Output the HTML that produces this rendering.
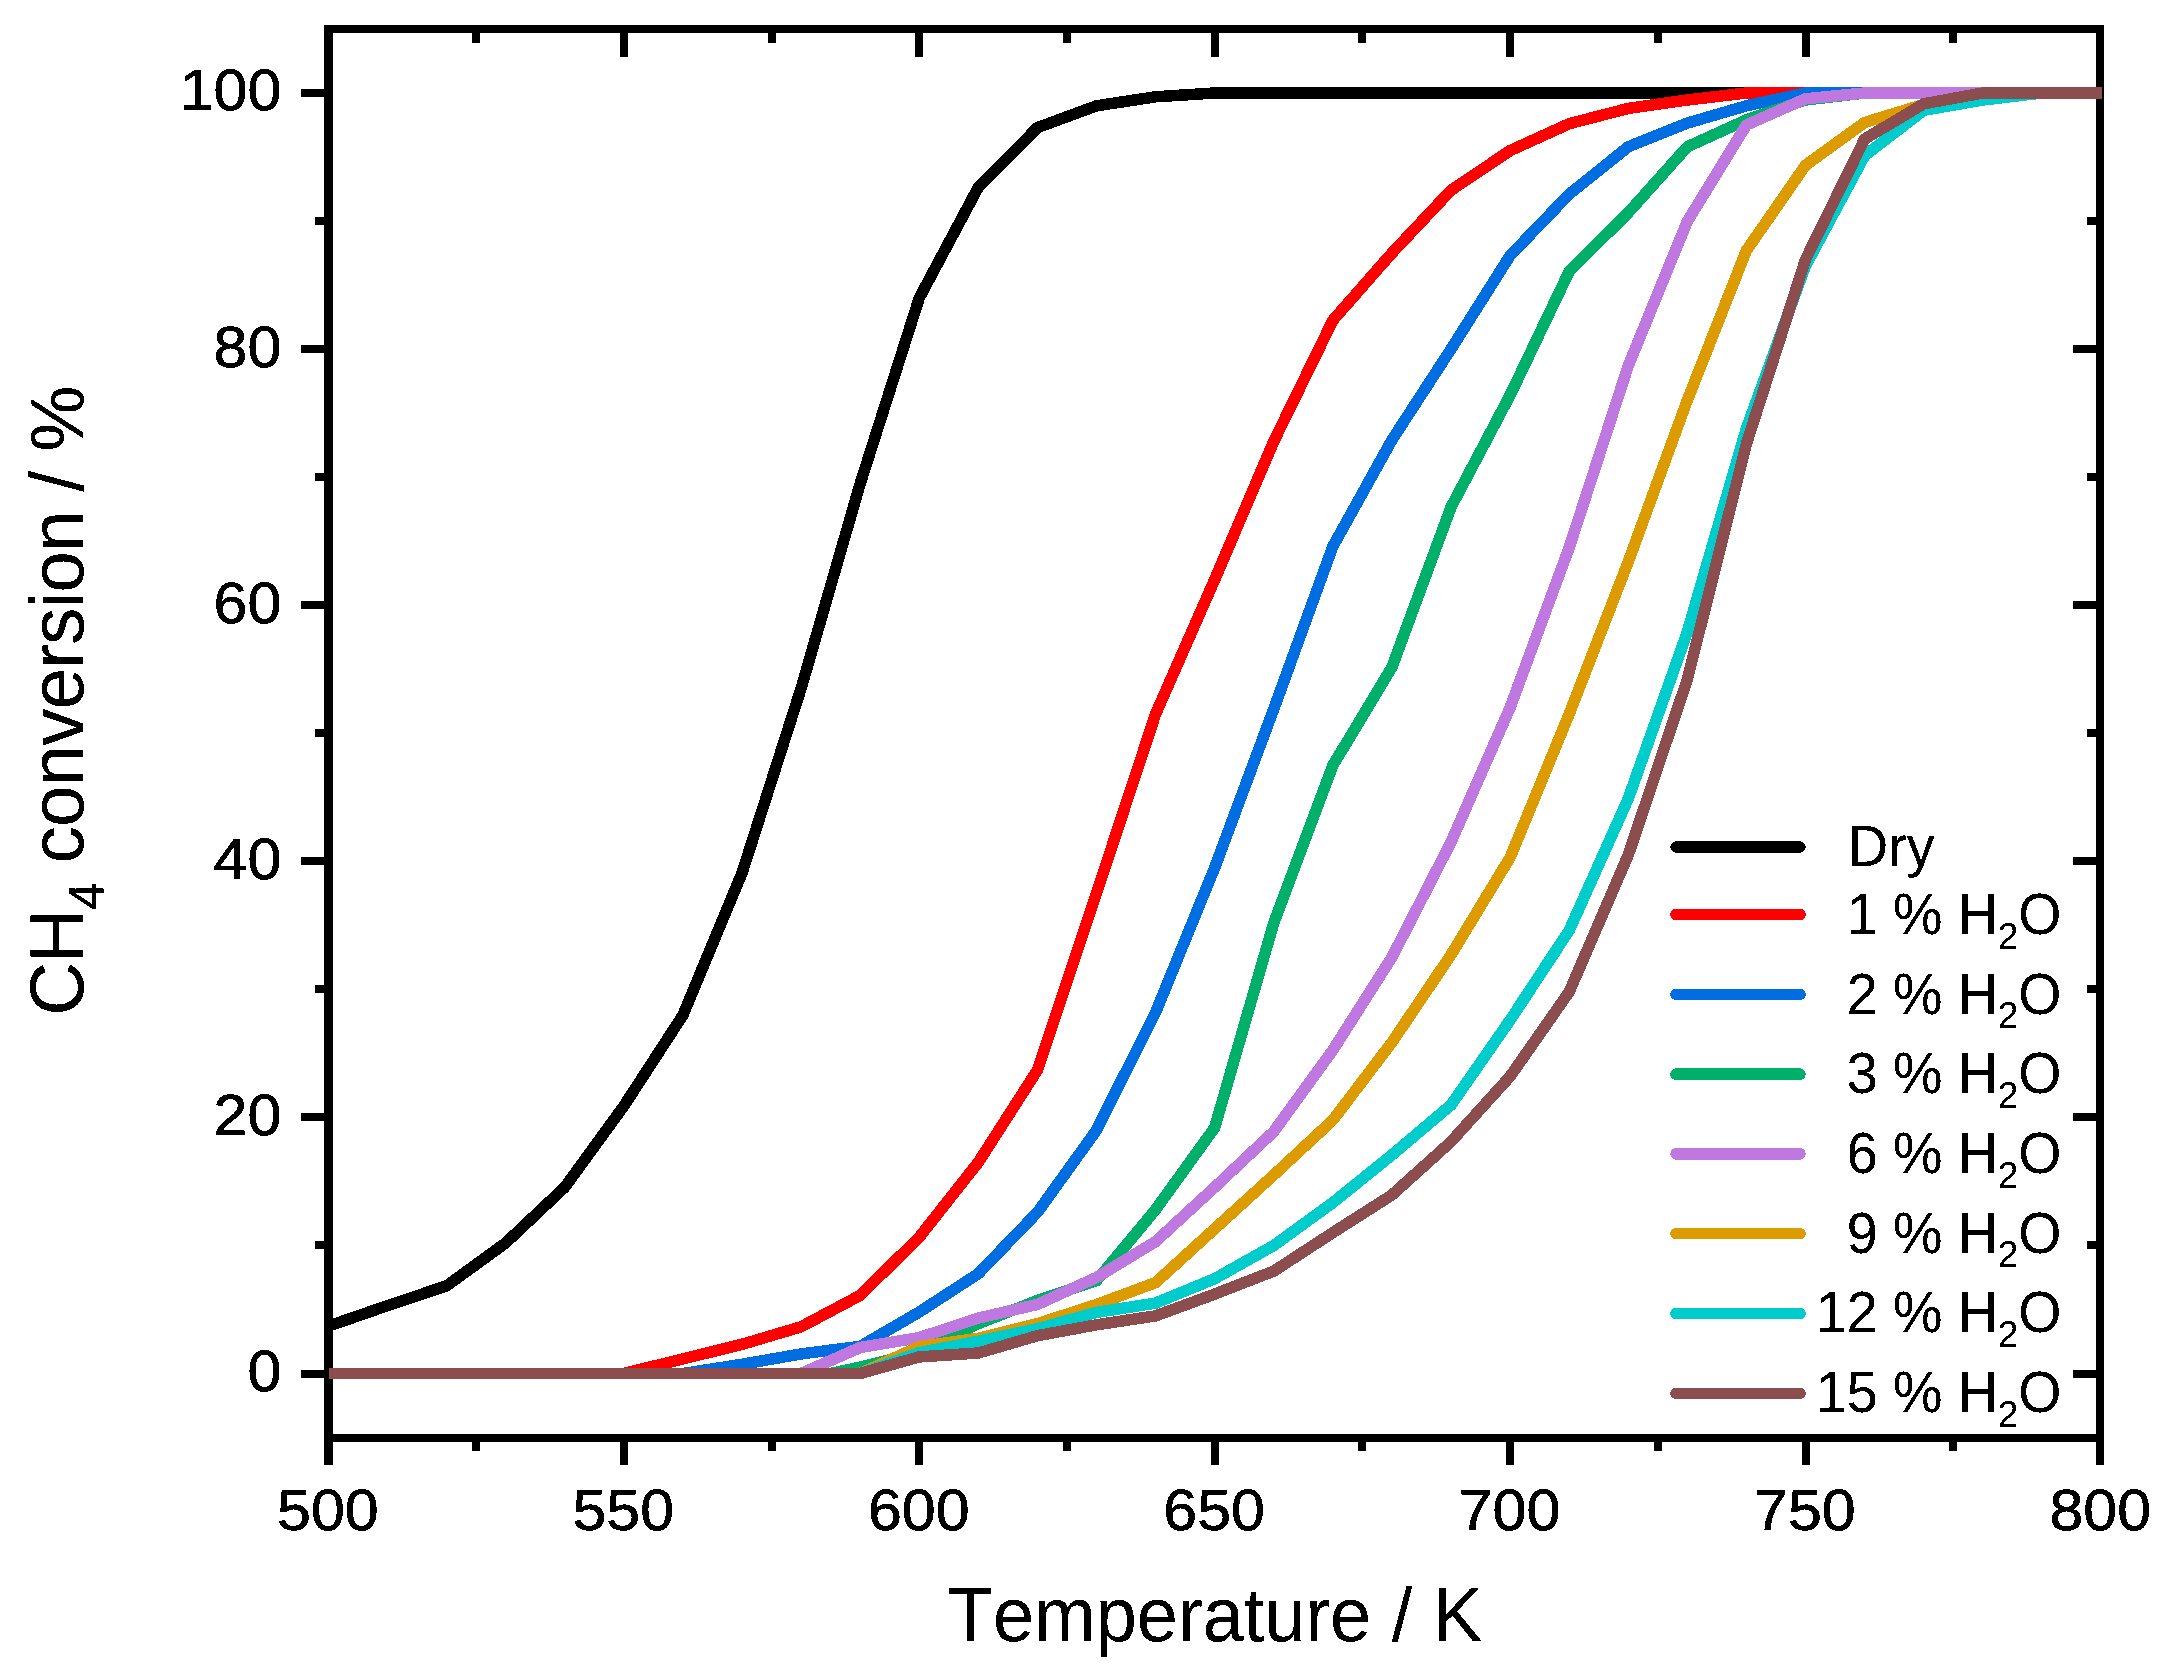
<!DOCTYPE html>
<html lang="en"><head><meta charset="utf-8"><title>CH4 conversion vs temperature</title>
<style>html,body{margin:0;padding:0;background:#fff}svg{display:block}text{font-family:"Liberation Sans",Arial,Helvetica,sans-serif;fill:#000;font-kerning:none}</style></head><body>
<svg width="2164" height="1679" viewBox="0 0 2164 1679">
<rect width="2164" height="1679" fill="#fff"/>
<defs><filter id="aa" x="-5%" y="-5%" width="110%" height="110%" color-interpolation-filters="sRGB"><feComponentTransfer><feFuncA type="discrete" tableValues="0 0 1 1 1"/></feComponentTransfer></filter><clipPath id="plot"><rect x="328" y="29" width="1774" height="1408.5"/></clipPath></defs>
<g fill="#000" shape-rendering="crispEdges">
<rect x="324" y="1437" width="9" height="27.5"/>
<rect x="324" y="29" width="9" height="27.5"/>
<rect x="472" y="1437" width="8" height="14"/>
<rect x="472" y="29" width="8" height="14"/>
<rect x="620" y="1437" width="8" height="27.5"/>
<rect x="620" y="29" width="8" height="27.5"/>
<rect x="768" y="1437" width="8" height="14"/>
<rect x="768" y="29" width="8" height="14"/>
<rect x="915" y="1437" width="8" height="27.5"/>
<rect x="915" y="29" width="8" height="27.5"/>
<rect x="1063" y="1437" width="8" height="14"/>
<rect x="1063" y="29" width="8" height="14"/>
<rect x="1211" y="1437" width="8" height="27.5"/>
<rect x="1211" y="29" width="8" height="27.5"/>
<rect x="1358" y="1437" width="8" height="14"/>
<rect x="1358" y="29" width="8" height="14"/>
<rect x="1506" y="1437" width="8" height="27.5"/>
<rect x="1506" y="29" width="8" height="27.5"/>
<rect x="1654" y="1437" width="8" height="14"/>
<rect x="1654" y="29" width="8" height="14"/>
<rect x="1802" y="1437" width="8" height="27.5"/>
<rect x="1802" y="29" width="8" height="27.5"/>
<rect x="1949" y="1437" width="8" height="14"/>
<rect x="1949" y="29" width="8" height="14"/>
<rect x="2096" y="1437" width="8" height="27.5"/>
<rect x="2096" y="29" width="8" height="27.5"/>
<rect x="301.0" y="1370.0" width="27.5" height="8"/>
<rect x="2072.5" y="1370.0" width="27.5" height="8"/>
<rect x="315.0" y="1241.0" width="13.5" height="8"/>
<rect x="2086.5" y="1241.0" width="13.5" height="8"/>
<rect x="301.0" y="1113.0" width="27.5" height="8"/>
<rect x="2072.5" y="1113.0" width="27.5" height="8"/>
<rect x="315.0" y="985.0" width="13.5" height="8"/>
<rect x="2086.5" y="985.0" width="13.5" height="8"/>
<rect x="301.0" y="857.0" width="27.5" height="8"/>
<rect x="2072.5" y="857.0" width="27.5" height="8"/>
<rect x="315.0" y="729.0" width="13.5" height="8"/>
<rect x="2086.5" y="729.0" width="13.5" height="8"/>
<rect x="301.0" y="601.0" width="27.5" height="8"/>
<rect x="2072.5" y="601.0" width="27.5" height="8"/>
<rect x="315.0" y="473.0" width="13.5" height="8"/>
<rect x="2086.5" y="473.0" width="13.5" height="8"/>
<rect x="301.0" y="345.0" width="27.5" height="8"/>
<rect x="2072.5" y="345.0" width="27.5" height="8"/>
<rect x="315.0" y="217.0" width="13.5" height="8"/>
<rect x="2086.5" y="217.0" width="13.5" height="8"/>
<rect x="301.0" y="89.0" width="27.5" height="8"/>
<rect x="2072.5" y="89.0" width="27.5" height="8"/>
<rect x="324" y="25" width="9" height="1416.5"/>
<rect x="2096" y="25" width="8" height="1416.5"/>
<rect x="324" y="25" width="1780" height="8"/>
<rect x="324" y="1433.5" width="1780" height="8"/>
</g>
<g clip-path="url(#plot)" fill="none" stroke-width="11.5" stroke-linejoin="round" stroke-linecap="butt" shape-rendering="crispEdges">
<polyline stroke="#000000" points="328.5,1326.1 387.6,1305.6 446.7,1285.8 505.7,1242.9 564.8,1187.2 623.9,1105.9 683.0,1015.0 742.1,872.8 801.1,688.4 860.2,483.6 919.3,297.9 978.4,187.1 1037.5,127.6 1096.5,105.8 1155.6,96.8 1214.7,93.0 1273.8,93.0 1332.9,93.0 1391.9,93.0 1451.0,93.0 1510.1,93.0 1569.2,93.0 1628.3,93.0 1687.3,93.0 1746.4,93.0 1805.5,93.0 1864.6,93.0 1923.7,93.0 1982.7,93.0 2041.8,93.0 2100.9,93.0 2103,93.0"/>
<polyline stroke="#ff0000" points="328.5,1373.5 387.6,1373.5 446.7,1373.5 505.7,1373.5 564.8,1373.5 623.9,1373.5 683.0,1358.9 742.1,1344.3 801.1,1326.8 860.2,1295.4 919.3,1237.1 978.4,1162.2 1037.5,1070.0 1096.5,893.3 1155.6,714.0 1214.7,579.6 1273.8,441.3 1332.9,320.3 1391.9,253.1 1451.0,190.3 1510.1,150.6 1569.2,123.7 1628.3,108.4 1687.3,100.0 1746.4,93.0 1805.5,93.0 1864.6,93.0 1923.7,93.0 1982.7,93.0 2041.8,93.0 2100.9,93.0 2103,93.0"/>
<polyline stroke="#006ee1" points="328.5,1373.5 387.6,1373.5 446.7,1373.5 505.7,1373.5 564.8,1373.5 623.9,1373.5 683.0,1373.5 742.1,1364.3 801.1,1353.9 860.2,1346.4 919.3,1312.0 978.4,1273.6 1037.5,1212.2 1096.5,1130.2 1155.6,1012.4 1214.7,867.7 1273.8,708.9 1332.9,546.3 1391.9,440.0 1451.0,349.1 1510.1,255.6 1569.2,194.2 1628.3,146.8 1687.3,123.1 1746.4,105.8 1805.5,93.0 1864.6,93.0 1923.7,93.0 1982.7,93.0 2041.8,93.0 2100.9,93.0 2103,93.0"/>
<polyline stroke="#00af69" points="328.5,1373.5 387.6,1373.5 446.7,1373.5 505.7,1373.5 564.8,1373.5 623.9,1373.5 683.0,1373.5 742.1,1373.5 801.1,1373.5 830.7,1373.5 860.2,1367.1 919.3,1352.4 978.4,1323.6 1037.5,1300.5 1096.5,1280.7 1155.6,1209.6 1214.7,1127.6 1273.8,922.8 1332.9,765.3 1391.9,667.3 1451.0,507.2 1510.1,395.2 1569.2,271.5 1628.3,212.7 1687.3,146.8 1746.4,119.9 1805.5,100.0 1864.6,93.0 1923.7,93.0 1982.7,93.0 2041.8,93.0 2100.9,93.0 2103,93.0"/>
<polyline stroke="#c078e1" points="328.5,1373.5 387.6,1373.5 446.7,1373.5 505.7,1373.5 564.8,1373.5 623.9,1373.5 683.0,1373.5 742.1,1373.5 801.1,1373.5 860.2,1347.5 919.3,1337.6 978.4,1318.1 1037.5,1304.4 1096.5,1277.5 1155.6,1241.6 1214.7,1187.2 1273.8,1131.5 1332.9,1050.0 1391.9,957.3 1451.0,842.1 1510.1,707.6 1569.2,547.6 1628.3,365.7 1687.3,221.4 1746.4,125.0 1805.5,98.8 1864.6,93.0 1923.7,93.0 1982.7,93.0 2041.8,93.0 2100.9,93.0 2103,93.0"/>
<polyline stroke="#dc9b00" points="328.5,1373.5 387.6,1373.5 446.7,1373.5 505.7,1373.5 564.8,1373.5 623.9,1373.5 683.0,1373.5 742.1,1373.5 801.1,1373.5 860.2,1373.5 919.3,1346.6 978.4,1338.3 1037.5,1323.6 1096.5,1304.6 1155.6,1282.6 1214.7,1228.8 1273.8,1175.0 1332.9,1120.0 1391.9,1042.4 1451.0,954.8 1510.1,857.5 1569.2,714.0 1628.3,561.7 1687.3,400.3 1746.4,250.5 1805.5,165.3 1864.6,122.5 1923.7,104.5 1982.7,93.0 2041.8,93.0 2100.9,93.0 2103,93.0"/>
<polyline stroke="#00cccc" points="328.5,1373.5 387.6,1373.5 446.7,1373.5 505.7,1373.5 564.8,1373.5 623.9,1373.5 683.0,1373.5 742.1,1373.5 801.1,1373.5 860.2,1373.5 919.3,1352.6 978.4,1341.2 1037.5,1328.7 1096.5,1312.4 1155.6,1303.1 1214.7,1278.7 1273.8,1245.5 1332.9,1202.6 1391.9,1155.0 1451.0,1105.0 1510.1,1020.1 1569.2,930.4 1628.3,798.6 1687.3,632.1 1746.4,428.5 1805.5,265.9 1864.6,155.7 1923.7,110.3 1982.7,100.0 2041.8,93.0 2100.9,93.0 2103,93.0"/>
<polyline stroke="#8c4d4e" points="328.5,1373.5 387.6,1373.5 446.7,1373.5 505.7,1373.5 564.8,1373.5 623.9,1373.5 683.0,1373.5 742.1,1373.5 801.1,1373.5 860.2,1373.5 919.3,1356.9 978.4,1353.0 1037.5,1335.7 1096.5,1324.8 1155.6,1315.9 1214.7,1294.1 1273.8,1271.1 1332.9,1232.6 1391.9,1195.0 1451.0,1141.7 1510.1,1076.4 1569.2,991.9 1628.3,854.9 1687.3,679.5 1746.4,443.9 1805.5,259.5 1864.6,139.1 1923.7,103.8 1982.7,93.0 2041.8,93.0 2100.9,93.0 2103,93.0"/>
</g>
<g stroke-width="11.5" stroke-linecap="round" fill="none" shape-rendering="crispEdges">
<line x1="1676" y1="847" x2="1800" y2="847" stroke="#000000"/>
<line x1="1676" y1="914.5" x2="1800" y2="914.5" stroke="#ff0000"/>
<line x1="1676" y1="994.3" x2="1800" y2="994.3" stroke="#006ee1"/>
<line x1="1676" y1="1074.1" x2="1800" y2="1074.1" stroke="#00af69"/>
<line x1="1676" y1="1153.9" x2="1800" y2="1153.9" stroke="#c078e1"/>
<line x1="1676" y1="1233.7" x2="1800" y2="1233.7" stroke="#dc9b00"/>
<line x1="1676" y1="1313.5" x2="1800" y2="1313.5" stroke="#00cccc"/>
<line x1="1676" y1="1393.3" x2="1800" y2="1393.3" stroke="#8c4d4e"/>
</g>
<g filter="url(#aa)">
<g font-size="55.6">
<text transform="translate(1848,866) scale(1,1.04)">Dry</text>
<text transform="translate(1846.7,933.8) scale(1,1.04)">1 % H<tspan font-size="36.3" dy="14.13">2</tspan><tspan dy="-14.13">O</tspan></text>
<text transform="translate(1846.7,1013.5) scale(1,1.04)">2 % H<tspan font-size="36.3" dy="14.13">2</tspan><tspan dy="-14.13">O</tspan></text>
<text transform="translate(1846.7,1093.2) scale(1,1.04)">3 % H<tspan font-size="36.3" dy="14.13">2</tspan><tspan dy="-14.13">O</tspan></text>
<text transform="translate(1846.7,1172.9) scale(1,1.04)">6 % H<tspan font-size="36.3" dy="14.13">2</tspan><tspan dy="-14.13">O</tspan></text>
<text transform="translate(1846.7,1252.6) scale(1,1.04)">9 % H<tspan font-size="36.3" dy="14.13">2</tspan><tspan dy="-14.13">O</tspan></text>
<text transform="translate(1815.8,1332.3) scale(1,1.04)">12 % H<tspan font-size="36.3" dy="14.13">2</tspan><tspan dy="-14.13">O</tspan></text>
<text transform="translate(1815.8,1412.0) scale(1,1.04)">15 % H<tspan font-size="36.3" dy="14.13">2</tspan><tspan dy="-14.13">O</tspan></text>
</g>
<g font-size="58" stroke="#000" stroke-width="0.5">
<text transform="translate(327.9,1530.3) scale(1.05,1)" text-anchor="middle">500</text>
<text transform="translate(623.3,1530.3) scale(1.05,1)" text-anchor="middle">550</text>
<text transform="translate(918.7,1530.3) scale(1.05,1)" text-anchor="middle">600</text>
<text transform="translate(1214.1,1530.3) scale(1.05,1)" text-anchor="middle">650</text>
<text transform="translate(1509.5,1530.3) scale(1.05,1)" text-anchor="middle">700</text>
<text transform="translate(1804.9,1530.3) scale(1.05,1)" text-anchor="middle">750</text>
<text transform="translate(2100.3,1530.3) scale(1.05,1)" text-anchor="middle">800</text>
<text transform="translate(281.3,1390.9) scale(1.05,1)" text-anchor="end">0</text>
<text transform="translate(281.3,1134.8) scale(1.05,1)" text-anchor="end">20</text>
<text transform="translate(281.3,878.7) scale(1.05,1)" text-anchor="end">40</text>
<text transform="translate(281.3,622.6) scale(1.05,1)" text-anchor="end">60</text>
<text transform="translate(281.3,366.5) scale(1.05,1)" text-anchor="end">80</text>
<text transform="translate(281.3,110.4) scale(1.05,1)" text-anchor="end">100</text>
</g>
<text transform="translate(1215,1641.2) scale(1,1.03)" font-size="74" text-anchor="middle">Temperature / K</text>
<text transform="translate(83,1015.5) rotate(-90) scale(1,1.03)" font-size="74" letter-spacing="-0.6">CH<tspan font-size="49" dy="20.4">4</tspan><tspan dy="-20.4"> conversion / %</tspan></text>
</g>
</svg></body></html>
